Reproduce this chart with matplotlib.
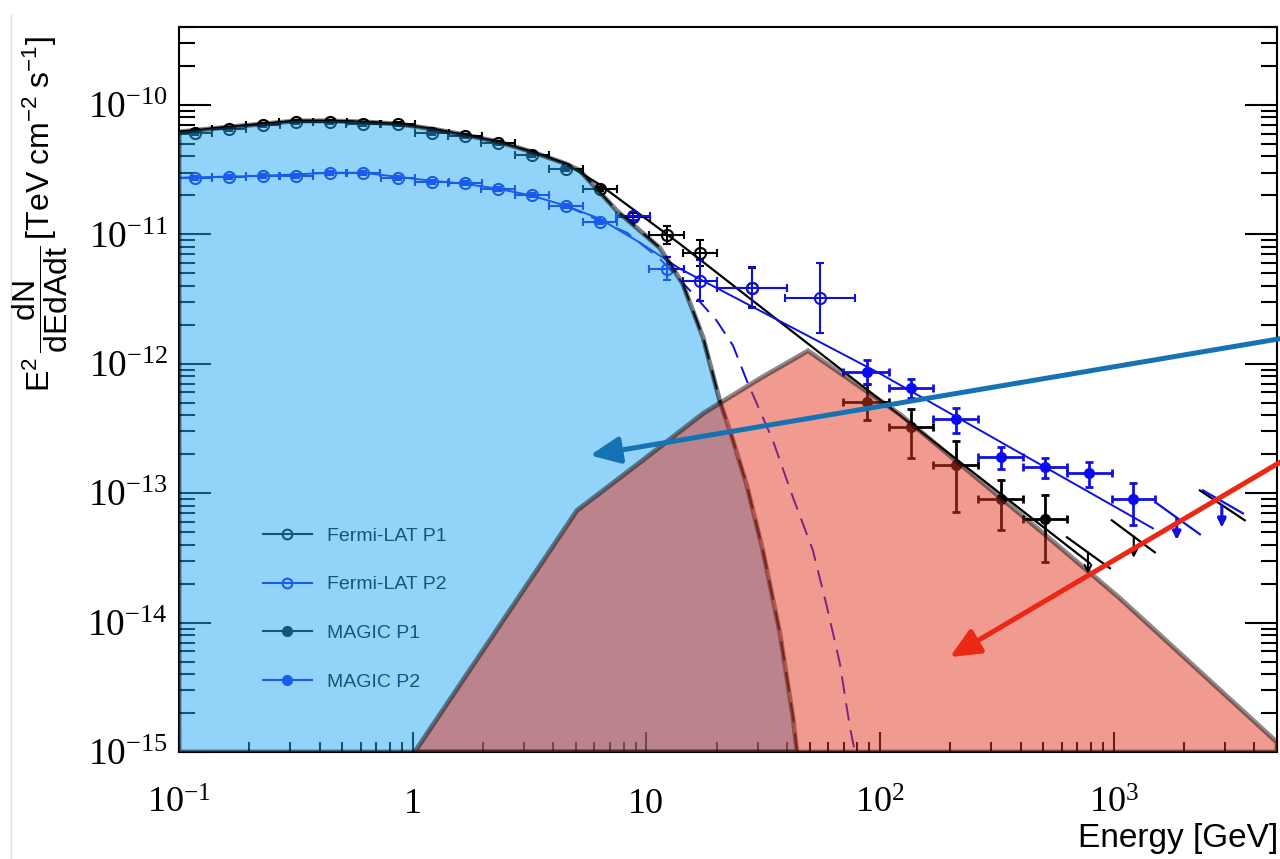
import numpy as np
import matplotlib.pyplot as plt
from matplotlib.lines import Line2D
from matplotlib.ticker import LogLocator, FuncFormatter, NullFormatter

plt.rcParams['mathtext.fontset'] = 'custom'
plt.rcParams['mathtext.rm'] = 'Liberation Sans'
plt.rcParams['mathtext.it'] = 'Liberation Sans:italic'
plt.rcParams['mathtext.bf'] = 'Liberation Sans:bold'

# Fermi-LAT P1 (open black circles): energy [GeV], E^2 dN/dE, half bin width and error (dex)
fermi_p1_e = [0.117, 0.164, 0.229, 0.317, 0.443, 0.612, 0.865, 1.21, 1.67, 2.32,
              3.24, 4.53, 6.32, 8.77, 12.2, 16.9, 28.3]
fermi_p1_f = [6.08e-11, 6.53e-11, 7.02e-11, 7.40e-11, 7.40e-11, 7.13e-11, 7.13e-11,
              6.08e-11, 5.77e-11, 5.09e-11, 4.11e-11, 3.21e-11, 2.25e-11, 1.37e-11,
              9.93e-12, 7.21e-12, 3.87e-12]
fermi_p1_dx = [0.073] * 16 + [0.15]
fermi_p1_dy = [0.015] * 13 + [0.03, 0.07, 0.10, 0.15]

# Fermi-LAT P2 (open blue circles)
fermi_p2_e = [0.117, 0.164, 0.229, 0.317, 0.443, 0.612, 0.865, 1.21, 1.67, 2.32,
              3.24, 4.53, 6.32, 8.77, 12.2, 16.9, 28.3, 55.3]
fermi_p2_f = [2.74e-11, 2.78e-11, 2.83e-11, 2.83e-11, 2.99e-11, 2.99e-11, 2.74e-11,
              2.55e-11, 2.50e-11, 2.25e-11, 2.02e-11, 1.66e-11, 1.25e-11, 1.39e-11,
              5.43e-12, 4.39e-12, 3.87e-12, 3.24e-12]
fermi_p2_dx = [0.073] * 16 + [0.15, 0.15]
fermi_p2_dy = [0.015] * 13 + [0.03, 0.09, 0.16, 0.16, 0.27]

# MAGIC bins
magic_e = [87.9, 135.6, 211, 329, 508, 783, 1209]
magic_elo = [69.3, 109, 168, 262, 408, 631, 982]
magic_ehi = [109, 168, 262, 408, 631, 982, 1500]

magic_p1_f = [5.02e-13, 3.22e-13, 1.64e-13, 8.96e-14, 6.28e-14]
magic_p1_flo = [3.65e-13, 1.86e-13, 7.11e-14, 5.17e-14, 2.92e-14]
magic_p1_fhi = [7.03e-13, 4.51e-13, 2.55e-13, 1.26e-13, 9.62e-14]

magic_p2_f = [8.71e-13, 6.44e-13, 3.71e-13, 1.92e-13, 1.58e-13, 1.42e-13, 8.96e-14]
magic_p2_flo = [7.03e-13, 5.48e-13, 2.94e-13, 1.55e-13, 1.30e-13, 1.11e-13, 5.65e-14]
magic_p2_fhi = [1.06e-12, 7.69e-13, 4.59e-13, 2.26e-13, 1.86e-13, 1.73e-13, 1.19e-13]

# upper limits
p1_ul_e = [776, 1219, 2904]
p1_ul_f = [3.49e-14, 4.65e-14, 8.05e-14]
p1_ul_elo = [631, 982, 2339]
p1_ul_ehi = [964, 1500, 3640]
p1_ul_fa = [4.56e-14, 6.17e-14, 1.05e-13]
p1_ul_fb = [2.63e-14, 3.49e-14, 6.17e-14]

p2_ul_e = [1862, 2904]
p2_ul_f = [6.40e-14, 8.05e-14]
p2_ul_elo = [1531, 2410]
p2_ul_ehi = [2339, 3575]
p2_ul_fa = [8.34e-14, 1.05e-13]
p2_ul_fb = [4.81e-14, 6.98e-14]

# model curves
fit_p1_e = [0.1, 0.164, 0.229, 0.317, 0.443, 0.612, 0.865, 1.21, 1.67, 2.32, 3.24,
            4.53, 6.32, 13.9, 791]
fit_p1_f = [6.19e-11, 6.76e-11, 7.13e-11, 7.53e-11, 7.53e-11, 7.40e-11, 7.13e-11,
            6.53e-11, 5.87e-11, 5.19e-11, 4.34e-11, 3.51e-11, 2.42e-11, 8.45e-12, 2.87e-14]

fit_p2_e = [0.1, 0.229, 0.443, 0.612, 0.865, 1.21, 1.67, 2.32, 3.24, 4.53, 6.32,
            9.40, 13.9, 100, 1472]
fit_p2_f = [2.74e-11, 2.83e-11, 2.99e-11, 2.99e-11, 2.78e-11, 2.59e-11, 2.46e-11,
            2.25e-11, 1.99e-11, 1.66e-11, 1.32e-11, 8.61e-12, 5.43e-12, 8.39e-13, 5.35e-14]

# leptonic (blue) component, also the P1 cutoff curve
lep_e = [0.1, 0.164, 0.229, 0.317, 0.443, 0.612, 0.865, 1.21, 1.67, 2.32, 3.24, 4.53,
         5.20, 7.48, 11.4, 14.3, 17.5, 20.6, 23.5, 26.9, 31.5, 37.3, 42.4, 44.1]
lep_f = [6.19e-11, 6.76e-11, 7.13e-11, 7.53e-11, 7.53e-11, 7.40e-11, 7.13e-11, 6.53e-11,
         5.87e-11, 5.19e-11, 4.34e-11, 3.51e-11, 3.10e-11, 1.52e-11, 7.89e-12, 4.16e-12,
         1.59e-12, 5.20e-13, 2.55e-13, 1.15e-13, 3.62e-14, 8.28e-15, 1.86e-15, 1e-15]

cut_p2_e = [4.53, 6.32, 8.26, 11.4, 15.4, 20.0, 23.5, 26.9, 34.8, 42.4, 51.6, 59.3,
            67.3, 74.3, 78.1]
cut_p2_f = [1.66e-11, 1.27e-11, 1.03e-11, 6.49e-12, 3.67e-12, 2.15e-12, 1.38e-12,
            7.41e-13, 2.55e-13, 9.29e-14, 3.62e-14, 1.32e-14, 4.86e-15, 1.56e-15, 1e-15]

# hadronic (red) component
had_e = [1.02, 5.05, 9.40, 17.5, 30.6, 49.2, 122, 483, 1064, 5000]
had_f = [1e-15, 7.36e-14, 1.73e-13, 4.13e-13, 7.69e-13, 1.26e-12, 4.06e-13,
         5.17e-14, 1.54e-14, 1.19e-15]

fig = plt.figure(figsize=(12.8, 8.59), dpi=100)
ax = fig.add_axes([179 / 1280, 1 - 752 / 859, 1098 / 1280, 725 / 859])
ax.set_xscale('log')
ax.set_yscale('log')

blue = '#1010e0'


def dex_err(vals, d):
    vals = np.array(vals)
    d = np.array(d)
    return [vals - vals * 10 ** (-d), vals * 10 ** d - vals]


# model lines
ax.plot(fit_p1_e, fit_p1_f, color='k', lw=1.6, zorder=2)
ax.plot(fit_p2_e, fit_p2_f, color=blue, lw=1.4, zorder=2)
ax.plot(lep_e, lep_f, color='k', lw=1.6, ls=(0, (9, 5)), zorder=2)
ax.plot(cut_p2_e, cut_p2_f, color=blue, lw=1.4, ls=(0, (9, 5)), zorder=2)

# Fermi points
ax.errorbar(fermi_p1_e, fermi_p1_f, xerr=dex_err(fermi_p1_e, fermi_p1_dx),
            yerr=dex_err(fermi_p1_f, fermi_p1_dy), fmt='o', ms=8, mfc='none',
            mec='k', mew=1.5, ecolor='k', elinewidth=1.5, capsize=3, capthick=1.5, zorder=3)
ax.errorbar(fermi_p2_e, fermi_p2_f, xerr=dex_err(fermi_p2_e, fermi_p2_dx),
            yerr=dex_err(fermi_p2_f, fermi_p2_dy), fmt='o', ms=8, mfc='none',
            mec=blue, mew=1.5, ecolor=blue, elinewidth=1.5, capsize=3, capthick=1.5, zorder=3)

# MAGIC points
n1 = len(magic_p1_f)
e1 = np.array(magic_e[:n1])
ax.errorbar(e1, magic_p1_f,
            xerr=[e1 - np.array(magic_elo[:n1]), np.array(magic_ehi[:n1]) - e1],
            yerr=[np.array(magic_p1_f) - np.array(magic_p1_flo),
                  np.array(magic_p1_fhi) - np.array(magic_p1_f)],
            fmt='o', ms=7, color='k', elinewidth=2, capsize=3, capthick=2, zorder=3)
e2 = np.array(magic_e)
ax.errorbar(e2, magic_p2_f,
            xerr=[e2 - np.array(magic_elo), np.array(magic_ehi) - e2],
            yerr=[np.array(magic_p2_f) - np.array(magic_p2_flo),
                  np.array(magic_p2_fhi) - np.array(magic_p2_f)],
            fmt='o', ms=7, color='#0a0af5', ecolor=blue, elinewidth=2, capsize=3,
            capthick=2, zorder=3)

# upper limits
for e, f, lo, hi, fa, fb in zip(p1_ul_e, p1_ul_f, p1_ul_elo, p1_ul_ehi, p1_ul_fa, p1_ul_fb):
    ax.plot([lo, hi], [fa, fb], color='k', lw=1.6, zorder=3)
    ax.annotate('', xy=(e, f * 0.68), xytext=(e, f),
                arrowprops=dict(arrowstyle='->', color='k', lw=1.5,
                                mutation_scale=12, shrinkA=0, shrinkB=0), zorder=3)
for e, f, lo, hi, fa, fb in zip(p2_ul_e, p2_ul_f, p2_ul_elo, p2_ul_ehi, p2_ul_fa, p2_ul_fb):
    ax.plot([lo, hi], [fa, fb], color=blue, lw=1.6, zorder=3)
    ax.annotate('', xy=(e, f * 0.68), xytext=(e, f),
                arrowprops=dict(arrowstyle='-|>', color=blue, lw=2.2,
                                mutation_scale=12, shrinkA=0, shrinkB=0), zorder=3)

# legend
handles = [
    Line2D([], [], color='k', lw=1.5, marker='o', ms=7, mfc='none', mew=1.5),
    Line2D([], [], color=blue, lw=1.5, marker='o', ms=7, mfc='none', mew=1.5),
    Line2D([], [], color='k', lw=1.5, marker='o', ms=7),
    Line2D([], [], color=blue, lw=1.5, marker='o', ms=7),
]
labels = ['Fermi-LAT P1', 'Fermi-LAT P2', 'MAGIC P1', 'MAGIC P2']
leg = ax.legend(handles, labels, loc='upper left', bbox_to_anchor=(263 / 1280, 1 - 527 / 859),
                bbox_transform=fig.transFigure, frameon=False, handlelength=2.5,
                handletextpad=0.8, labelspacing=1.6, borderpad=0, borderaxespad=0,
                prop={'family': 'Liberation Sans', 'size': 14})
leg.set_zorder(5)

# shaded components drawn over the data, semi transparent
ax.fill(lep_e + [lep_e[0]], lep_f + [lep_f[-1]], facecolor=(37 / 255, 169 / 255, 245 / 255, 0.5),
        edgecolor=(0, 0, 0, 0.5), lw=3.5, zorder=6)
ax.fill(had_e + [had_e[-1]], had_f + [had_f[0]], facecolor=(229 / 255, 55 / 255, 35 / 255, 0.5),
        edgecolor=(0, 0, 0, 0.45), lw=3.5, zorder=7)

# pointer arrows
ax.annotate('', xy=(5.74, 1.96e-13), xytext=(5140, 1.56e-12), annotation_clip=False,
            arrowprops=dict(arrowstyle='-|>,head_length=1.0,head_width=0.45', color='#1673b3',
                            lw=3.6, mutation_scale=18, shrinkA=0, shrinkB=0), zorder=10)
ax.annotate('', xy=(199, 5.41e-15), xytext=(5140, 1.73e-13), annotation_clip=False,
            arrowprops=dict(arrowstyle='-|>,head_length=1.0,head_width=0.45', color='#eb2814',
                            lw=3.6, mutation_scale=18, shrinkA=0, shrinkB=0), zorder=10)

# axes styling
ax.set_xticks(10.0 ** np.arange(-1, 4))
ax.set_yticks(10.0 ** np.arange(-15, -9))
ax.xaxis.set_minor_locator(LogLocator(base=10, subs=np.arange(2, 10), numticks=20))
ax.yaxis.set_minor_locator(LogLocator(base=10, subs=np.arange(2, 10), numticks=20))
ax.set_xlim(0.1, 5000)
ax.set_ylim(1e-15, 4e-10)


def xfmt(v, pos):
    n = int(round(np.log10(v)))
    if n == 0:
        return '1'
    if n == 1:
        return '10'
    return r'$\mathregular{10^{%d}}$' % n


def yfmt(v, pos):
    n = int(round(np.log10(v)))
    return r'$\mathregular{10^{%d}}$' % n


ax.xaxis.set_major_formatter(FuncFormatter(xfmt))
ax.yaxis.set_major_formatter(FuncFormatter(yfmt))
ax.xaxis.set_minor_formatter(NullFormatter())
ax.yaxis.set_minor_formatter(NullFormatter())

ax.tick_params(which='both', direction='in', width=1.5, color='k',
               labelfontfamily='Liberation Serif', labelsize=26)
ax.tick_params(axis='y', which='major', length=23, right=True, pad=8, labelsize=27)
ax.tick_params(axis='y', which='minor', length=11.5, right=True)
ax.tick_params(axis='x', which='major', length=14.5, pad=26)
ax.tick_params(axis='x', which='minor', length=7)
for s in ax.spines.values():
    s.set_linewidth(1.5)

fig.text(1278 / 1280, 1 - 838 / 859, 'Energy [GeV]', ha='right', va='center',
         family='Liberation Sans', fontsize=24)
fig.text(40 / 1280, 1 - 36 / 859,
         r'$\mathrm{E^{2}\,\dfrac{dN}{dEdAdt}\,[TeV\;cm^{-2}\;s^{-1}]}$',
         rotation=90, ha='center', va='top', fontsize=23)

# screenshot border line at left
fig.add_artist(Line2D([11 / 1280, 11 / 1280], [0, 1 - 15 / 859], color='#dcdcdc', lw=1))

fig.savefig('out.png', dpi=100)
